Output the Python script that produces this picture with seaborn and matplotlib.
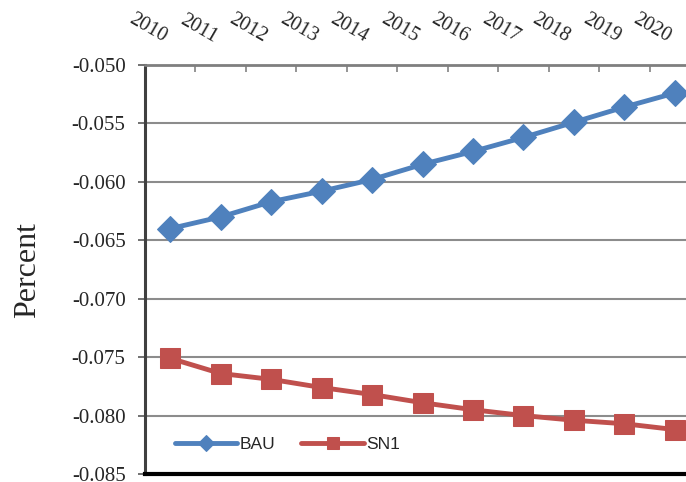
import numpy as np
import pandas as pd
import matplotlib
matplotlib.use('Agg')
import matplotlib.pyplot as plt
import seaborn as sns

years = [2010, 2011, 2012, 2013, 2014, 2015, 2016, 2017, 2018, 2019, 2020]
bau = [-0.0640, -0.0630, -0.0617, -0.0608, -0.0598, -0.0585, -0.0574, -0.0562, -0.0549, -0.0536, -0.0524]
sn1 = [-0.0751, -0.0764, -0.0769, -0.0776, -0.0782, -0.0789, -0.0795, -0.0800, -0.0804, -0.0807, -0.0812]
series_names = ['BAU', 'SN1']
y_ticks = [-0.085, -0.080, -0.075, -0.070, -0.065, -0.060, -0.055, -0.050]

sns.set_style('white')
serif = ['Liberation Serif', 'DejaVu Serif']
sans = ['Liberation Sans', 'DejaVu Sans']
plt.rcParams['font.family'] = serif

df = pd.DataFrame({
    'year': years * 2,
    'value': bau + sn1,
    'series': [series_names[0]] * len(years) + [series_names[1]] * len(years),
})

fig = plt.figure(figsize=(6.86, 4.82), dpi=100)
ax = fig.add_axes([145 / 686, 1 - 474 / 482, 555 / 686, (474 - 65) / 482])

colors = {'BAU': '#4F81BD', 'SN1': '#C0504D'}
markers = {'BAU': 'D', 'SN1': 's'}
sizes = {'BAU': 13, 'SN1': 14}
for name in series_names:
    sub = df[df['series'] == name]
    sns.lineplot(data=sub, x='year', y='value', ax=ax, color=colors[name],
                 marker=markers[name], markersize=sizes[name],
                 markeredgecolor=colors[name], linewidth=3.5, label=name,
                 solid_capstyle='round')

ax.set_xlim(2009.5, 2020.5)
ax.set_ylim(-0.085, -0.050)
ax.set_yticks(y_ticks)
ax.set_yticklabels([f'{v:.3f}' for v in y_ticks], fontsize=15, family=serif)
ax.yaxis.grid(True, color='#8c8c8c', linewidth=1.5)
ax.set_axisbelow(True)

# x axis on top; year labels sit a little left of each category centre
ax.xaxis.tick_top()
ax.set_xticks([y - 0.2 for y in years])
ax.set_xticklabels([str(y) for y in years], fontsize=14.5, family=serif,
                   rotation=-30, ha='right', va='bottom', rotation_mode='anchor')
ax.set_xticks([y - 0.5 for y in years] + [2020.5], minor=True)
ax.tick_params(axis='x', which='major', length=0, pad=13)
ax.tick_params(axis='x', which='minor', top=True, bottom=False, direction='in',
               length=5, color='#8c8c8c', width=1.3)
ax.tick_params(axis='y', which='major', left=True, direction='out', length=5,
               color='#666666', width=1.3, pad=9)

ax.set_xlabel('')
ax.set_ylabel('Percent', fontsize=23, family=serif, labelpad=21)

ax.spines['top'].set_visible(True)
ax.spines['top'].set_color('#7f7f7f')
ax.spines['top'].set_linewidth(2)
ax.spines['bottom'].set_visible(True)
ax.spines['bottom'].set_color('black')
ax.spines['bottom'].set_linewidth(3)
ax.spines['left'].set_visible(True)
ax.spines['left'].set_color('#404040')
ax.spines['left'].set_linewidth(2.2)
ax.spines['right'].set_visible(False)

leg = ax.legend(loc='center left', bbox_to_anchor=(0.025, 0.072), ncol=2,
                frameon=False, handlelength=3.6, handletextpad=0.15,
                columnspacing=1.5, prop={'family': sans, 'size': 12.5})
for line in leg.get_lines():
    line.set_markersize(8)
    line.set_linewidth(3.5)

fig.savefig('out.png', dpi=100)
